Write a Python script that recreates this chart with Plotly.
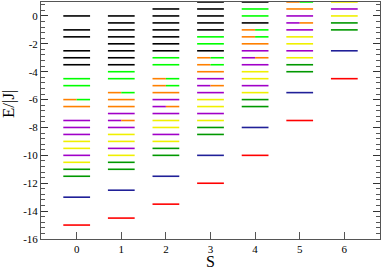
import plotly.graph_objects as go

# ---- data: energy levels E/|J| for each total spin S ----
S_values = [0, 1, 2, 3, 4, 5, 6]

black_levels = [[0, -1, -1.5, -2.5, -3, -3.5],
                [0, -0.5, -1, -1.5, -2, -2.5, -3, -3.5],
                [0.5, 0, -0.5, -1, -1.5, -2, -2.5],
                [1, 0.5, 0, -0.5, -1, -2.5],
                [1, -0.5],
                [],
                []]
green_levels = [[-4.5, -5], [-4, -4.5], [-3, -3.5], [-1.5, -2], [0.5, 0], [], []]
orange_green_levels = [[-6], [-5.5], [-4.5, -5], [-3, -3.5], [-1, -1.5], [1], []]
orange_levels = [[-6.5], [-6, -6.5], [-5.5], [-4], [-2], [0.5], []]
purple_orange_levels = [[], [-7.5], [-6.5], [-5], [-3], [-0.5], []]
purple_levels = [[-7.5, -8, -8.5, -10], [-7, -8, -9.5], [-6, -7, -8.5],
                 [-4.5, -5.5, -7], [-2.5, -3.5, -5], [0, -1, -2.5], [0.5]]
yellow_levels = [[-9, -9.5, -10.5], [-8.5, -9, -10], [-7.5, -8, -9],
                 [-6, -6.5, -7.5], [-4, -4.5, -5.5], [-1.5, -2, -3], [1, 0]]
darkgreen_levels = [[-11, -11.5], [-10.5, -11], [-9.5, -10], [-8, -8.5],
                    [-6, -6.5], [-3.5, -4], [-0.5, -1]]
blue_levels = [-13, -12.5, -11.5, -10, -8, -5.5, -2.5]
red_levels = [-15, -14.5, -13.5, -12, -10, -7.5, -4.5]

x_tick_labels = ["0", "1", "2", "3", "4", "5", "6"]
y_tick_values = [0, -2, -4, -6, -8, -10, -12, -14, -16]
y_tick_labels = ["0", "-2", "-4", "-6", "-8", "-10", "-12", "-14", "-16"]

# ---- styles ----
HALF = 0.3
C_BLACK = "#000000"
C_GREEN = "#00ff00"
C_ORANGE = "#ff8000"
C_PURPLE = "#a000c8"
C_YELLOW = "#f0f000"
C_DGREEN = "#009800"
C_BLUE = "#202098"
C_RED = "#ff0000"
LW = 1.6
SERIF = "Liberation Serif, DejaVu Serif, serif"


def segs(levels_per_s, part="full"):
    xs, ys = [], []
    for s, levels in zip(S_values, levels_per_s):
        for e in levels:
            if part == "full":
                x0, x1 = s - HALF, s + HALF
            elif part == "left":
                x0, x1 = s - HALF, s
            else:
                x0, x1 = s, s + HALF
            xs += [x0, x1, None]
            ys += [e, e, None]
    return xs, ys


fig = go.Figure()


def add(levels, color, part="full"):
    xs, ys = segs(levels, part)
    fig.add_trace(go.Scatter(x=xs, y=ys, mode="lines",
                             line=dict(color=color, width=LW),
                             hoverinfo="skip", showlegend=False))


add(black_levels, C_BLACK)
add(green_levels, C_GREEN)
add(orange_green_levels, C_ORANGE, "left")
add(orange_green_levels, C_GREEN, "right")
add(orange_levels, C_ORANGE)
add(purple_orange_levels, C_PURPLE, "left")
add(purple_orange_levels, C_ORANGE, "right")
add(purple_levels, C_PURPLE)
add(yellow_levels, C_YELLOW)
add(darkgreen_levels, C_DGREEN)
add([[e] for e in blue_levels], C_BLUE)
add([[e] for e in red_levels], C_RED)

tick_font = dict(family=SERIF, size=11, color="black")

fig.update_layout(
    width=382, height=272,
    margin=dict(l=41, r=2, t=2, b=33, autoexpand=False),
    paper_bgcolor="white", plot_bgcolor="white",
    xaxis=dict(range=[-0.8, 6.8], tickmode="array", tickvals=S_values,
               ticktext=x_tick_labels, ticks="inside", ticklen=7,
               tickcolor="#555", showline=True, linecolor="#555", linewidth=1,
               mirror=True, showgrid=False, zeroline=False, automargin=False,
               tickfont=tick_font, layer="below traces"),
    yaxis=dict(range=[-16, 1], tickmode="array", tickvals=y_tick_values,
               ticktext=y_tick_labels, ticks="inside", ticklen=7,
               tickcolor="#333", showline=True, linecolor="#555", linewidth=1,
               mirror="ticks", showgrid=False, zeroline=False, automargin=False,
               tickfont=tick_font, layer="below traces",
               minor=dict(dtick=0.4, tick0=0, ticks="inside", ticklen=4,
                          tickcolor="#555", showgrid=False)),
    annotations=[
        dict(text="E/|J|", xref="paper", yref="paper", x=-0.094, y=0.57,
             showarrow=False, textangle=-90,
             font=dict(family=SERIF, size=17, color="black"),
             xanchor="center", yanchor="middle"),
        dict(text="S", xref="paper", yref="paper", x=0.5, y=-0.095,
             showarrow=False,
             font=dict(family=SERIF, size=16, color="black"),
             xanchor="center", yanchor="middle"),
    ],
)

fig.write_html("out.html",
               config={"displayModeBar": False, "staticPlot": True},
               post_script="document.body.style.margin='0';"
                           "document.body.style.overflow='hidden';")
